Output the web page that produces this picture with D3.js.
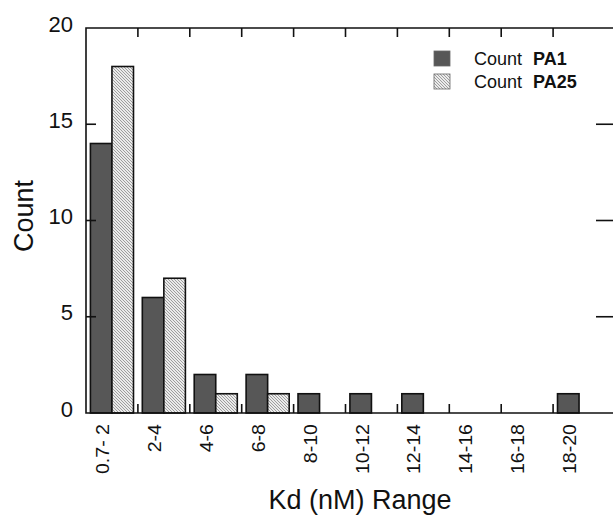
<!DOCTYPE html>
<html>
<head>
<meta charset="utf-8">
<script src="https://cdn.jsdelivr.net/npm/d3@7"></script>
<style>
  body { margin: 0; background: #fff; }
  text { font-family: Arial, "Liberation Sans", sans-serif; fill: #111; }
</style>
</head>
<body>
<svg id="chart" width="613" height="516"></svg>
<script>
// bins along the x axis
const categories = ['0.7- 2', '2-4', '4-6', '6-8', '8-10', '10-12', '12-14', '14-16', '16-18', '18-20'];
// counts per bin
const countPA1 = [14, 6, 2, 2, 1, 1, 1, 0, 0, 1];
const countPA25 = [18, 7, 1, 1, 0, 0, 0, 0, 0, 0];
const yTicks = [0, 5, 10, 15, 20];
const seriesNames = ['PA1', 'PA25'];

const svg = d3.select('#chart');
const width = 613;

const plotLeft = 86, plotTop = 28, plotBottom = 413, plotRight = 614;

let x = d3.scaleBand()
  .domain(categories)
  .range([plotLeft, 605])
  .paddingInner(0)
  .paddingOuter(0);

let y = d3.scaleLinear()
  .domain([0, 20])
  .range([plotBottom, plotTop]);

// hatch pattern for PA25
let defs = svg.append('defs');
let pat = defs.append('pattern')
  .attr('id', 'hatch')
  .attr('patternUnits', 'userSpaceOnUse')
  .attr('width', 3)
  .attr('height', 3);
pat.append('rect')
  .attr('width', 3)
  .attr('height', 3)
  .attr('fill', '#ebebeb');
pat.append('path')
  .attr('d', 'M0,0 L3,3 M-1,2 L1,4 M2,-1 L4,1')
  .attr('stroke', '#909090')
  .attr('stroke-width', 0.85);

let rows = categories.map((c, i) => ({ cat: c, a: countPA1[i], b: countPA25[i] }));

let bw = x.bandwidth() * 0.415;

let g = svg.append('g');

// PA1 bars (dark), left of band centre
g.selectAll('rect.pa1')
  .data(rows.filter(d => d.a > 0))
  .enter()
  .append('rect')
  .attr('class', 'pa1')
  .attr('x', d => x(d.cat) + x.bandwidth() / 2 - bw)
  .attr('y', d => y(d.a))
  .attr('width', bw)
  .attr('height', d => y(0) - y(d.a))
  .attr('fill', '#575757')
  .attr('stroke', '#111')
  .attr('stroke-width', 1.6);

// PA25 bars (hatched), right of band centre
g.selectAll('rect.pa25')
  .data(rows.filter(d => d.b > 0))
  .enter()
  .append('rect')
  .attr('class', 'pa25')
  .attr('x', d => x(d.cat) + x.bandwidth() / 2)
  .attr('y', d => y(d.b))
  .attr('width', bw)
  .attr('height', d => y(0) - y(d.b))
  .attr('fill', 'url(#hatch)')
  .attr('stroke', '#111')
  .attr('stroke-width', 1.6);

// frame
let frame = svg.append('g')
  .attr('fill', 'none')
  .attr('stroke', '#111')
  .attr('stroke-width', 1.6);
frame.append('path')
  .attr('d', `M${plotRight},${plotTop} H${plotLeft} V${plotBottom} H${plotRight}`);

// band boundary ticks (top and bottom)
let bounds = categories.slice(1).map(c => x(c));
frame.selectAll('line.bt')
  .data(bounds)
  .enter()
  .append('line')
  .attr('x1', d => d).attr('x2', d => d)
  .attr('y1', plotBottom).attr('y2', plotBottom - 9);
frame.selectAll('line.tt')
  .data(bounds)
  .enter()
  .append('line')
  .attr('x1', d => d).attr('x2', d => d)
  .attr('y1', plotTop).attr('y2', plotTop + 9);

// y ticks, left and right, inward
frame.selectAll('line.yl')
  .data(yTicks.slice(1, -1))
  .enter()
  .append('line')
  .attr('x1', plotLeft).attr('x2', plotLeft + 10)
  .attr('y1', d => y(d)).attr('y2', d => y(d));
frame.selectAll('line.yr')
  .data(yTicks.slice(1, -1))
  .enter()
  .append('line')
  .attr('x1', 596).attr('x2', width)
  .attr('y1', d => y(d)).attr('y2', d => y(d));

// y tick labels
svg.selectAll('text.yt')
  .data(yTicks)
  .enter()
  .append('text')
  .attr('class', 'yt')
  .attr('x', 73)
  .attr('y', d => y(d) - 4)
  .attr('dy', '0.35em')
  .attr('text-anchor', 'end')
  .style('font-size', '22px')
  .text(d => d);

// x tick labels, rotated
svg.selectAll('text.xt')
  .data(categories)
  .enter()
  .append('text')
  .attr('class', 'xt')
  .attr('transform', d => `translate(${x(d) + 23},424) rotate(-90) scale(1.12,1)`)
  .attr('text-anchor', 'end')
  .style('font-size', '17.5px')
  .text(d => d);

// axis titles
svg.append('text')
  .attr('transform', 'translate(33,216) rotate(-90)')
  .attr('text-anchor', 'middle')
  .style('font-size', '27px')
  .text('Count');

svg.append('text')
  .attr('x', 360)
  .attr('y', 509)
  .attr('text-anchor', 'middle')
  .style('font-size', '27px')
  .text('Kd (nM) Range');

// legend
let legend = svg.append('g');
let fills = ['#575757', 'url(#hatch)'];
seriesNames.forEach((name, i) => {
  let ly = 51 + i * 23;
  legend.append('rect')
    .attr('x', 434)
    .attr('y', ly)
    .attr('width', 16)
    .attr('height', 15)
    .attr('fill', fills[i])
    .attr('stroke', '#666')
    .attr('stroke-width', 0.8);
  let t = legend.append('text')
    .attr('x', 474)
    .attr('y', ly + 14)
    .style('font-size', '18px');
  t.append('tspan').text('Count');
  t.append('tspan')
    .attr('x', 533)
    .style('font-weight', 'bold')
    .text(name);
});
</script>
</body>
</html>
